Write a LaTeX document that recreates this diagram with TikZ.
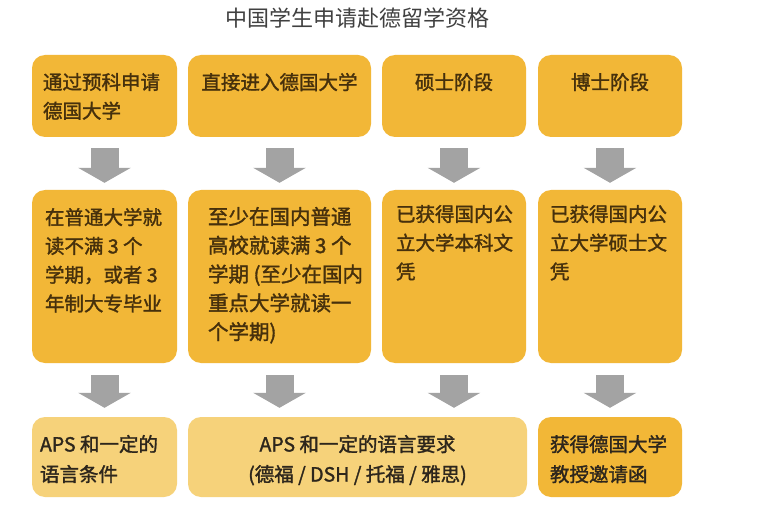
\documentclass[tikz,border=0pt]{standalone}
\usepackage{fontspec}
\setmainfont{Noto Sans CJK SC}
\newfontfamily\boxfont{Noto Sans CJK SC}[FakeBold=1.6]
\usetikzlibrary{arrows.meta,calc}
\definecolor{gold}{RGB}{242,183,55}
\definecolor{lightgold}{RGB}{246,210,122}
\definecolor{arrowgray}{RGB}{163,163,163}
\definecolor{txtbrown}{RGB}{70,48,12}
\definecolor{txtdark}{RGB}{45,38,28}
\definecolor{titlegray}{RGB}{64,64,64}
\begin{document}
\begin{tikzpicture}[x=1pt,y=-1pt,
  box/.style={draw=none, fill=gold, rounded corners=13pt, inner sep=0pt, minimum width=144pt},
  lightbox/.style={box, fill=lightgold},
  toprow/.style={minimum height=82pt},
  midrow/.style={minimum height=173pt},
  botrow/.style={minimum height=80pt},
  txt/.style={inner sep=0pt, align=left, text=txtbrown, font=\boxfont\fontsize{19.5}{28.8}\selectfont},
  txtc/.style={txt, align=center},
  bigarrow/.style={draw=arrowgray, line width=28pt, -{Triangle[width=52pt,length=15pt]}}
]
\useasboundingbox[fill=white] (0,0) rectangle (765,505);

\node[text=titlegray, inner sep=0pt, font=\fontsize{22}{26}\selectfont] (title) at (357,18) {中国学生申请赴德留学资格};

% row 1
\node[box, toprow, minimum width=145pt] (b11) at (104.5,96) {};
\node[box, toprow, minimum width=183pt] (b12) at (279.5,96) {};
\node[box, toprow] (b13) at (454,96) {};
\node[box, toprow] (b14) at (610,96) {};
% row 2
\node[box, midrow, minimum width=145pt] (b21) at (104.5,276.5) {};
\node[box, midrow, minimum width=183pt] (b22) at (279.5,276.5) {};
\node[box, midrow] (b23) at (454,276.5) {};
\node[box, midrow] (b24) at (610,276.5) {};
% row 3
\node[lightbox, botrow, minimum width=145pt] (b31) at (104.5,457) {};
\node[lightbox, botrow, minimum width=339pt] (b32) at (357.5,457) {};
\node[box, botrow] (b34) at (610,457) {};

% texts row 1
\node[txt, anchor=north west] (t11) at ($(b11.north west)+(11,18)$) {通过预科申请\\德国大学};
\node[txtc, anchor=north] (t12) at ($(b12.north)+(0,18)$) {直接进入德国大学};
\node[txtc, anchor=north] (t13) at ($(b13.north)+(0,18)$) {硕士阶段};
\node[txtc, anchor=north] (t14) at ($(b14.north)+(0,18)$) {博士阶段};
% texts row 2
\node[txt, anchor=north west] (t21) at ($(b21.north west)+(13,18)$) {在普通大学就\\读不满 3 个\\学期，或者 3\\年制大专毕业};
\node[txt, anchor=north west, font=\boxfont\fontsize{20.5}{28.8}\selectfont] (t22) at ($(b22.north west)+(20,17)$) {至少在国内普通\\高校就读满 3 个\\学期 (至少在国内\\重点大学就读一\\个学期)};
\node[txt, anchor=north west] (t23) at ($(b23.north west)+(14,15)$) {已获得国内公\\立大学本科文\\凭};
\node[txt, anchor=north west] (t24) at ($(b24.north west)+(12,15)$) {已获得国内公\\立大学硕士文\\凭};
% texts row 3
\node[txt, text=txtdark, anchor=north west, font=\boxfont\fontsize{19.5}{30}\selectfont] (t31) at ($(b31.north west)+(8,18)$) {APS 和一定的\\语言条件};
\node[txtc, text=txtdark, anchor=north, font=\boxfont\fontsize{19.5}{30}\selectfont] (t32) at ($(b32.north)+(0,18)$) {APS 和一定的语言要求\\(德福 / DSH / 托福 / 雅思)};
\node[txt, text=txtdark, anchor=north west, font=\boxfont\fontsize{19.5}{30}\selectfont] (t34) at ($(b34.north west)+(12,18)$) {获得德国大学\\教授邀请函};

% arrows
\foreach \c in {1,2,3,4}{
  \draw[bigarrow, shorten <=11pt, shorten >=7pt] (b1\c.south) -- (b2\c.north);
}
\draw[bigarrow, shorten <=12pt, shorten >=9pt] (b21.south) -- (b31.north);
\draw[bigarrow, shorten <=12pt, shorten >=9pt] (b24.south) -- (b34.north);
\draw[bigarrow, shorten <=12pt, shorten >=9pt] (b22.south) -- (b22.south |- b32.north);
\draw[bigarrow, shorten <=12pt, shorten >=9pt] (b23.south) -- (b23.south |- b32.north);
\end{tikzpicture}
\end{document}
